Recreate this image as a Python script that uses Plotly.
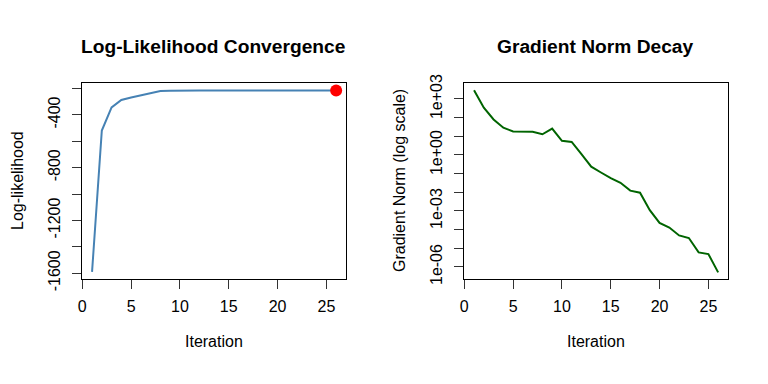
import plotly.graph_objects as go

iterations = list(range(1, 27))
loglik = [-1590, -518, -343, -286, -267, -250, -234, -219, -217, -215,
          -215, -215, -215, -215, -215, -215, -215, -215, -215, -215,
          -215, -215, -215, -215, -215, -215]
log10_grad = [3.47, 2.53, 1.90, 1.46, 1.26, 1.24, 1.24, 1.11, 1.41, 0.76,
              0.70, 0.05, -0.63, -0.94, -1.24, -1.49, -1.91, -2.02, -2.96, -3.64,
              -3.89, -4.31, -4.45, -5.22, -5.31, -6.29]
grad_norm = [10 ** v for v in log10_grad]

ll_tickvals = list(range(-1600, -199, 200))
ll_ticktext = [str(v) if v % 400 == 0 else "" for v in ll_tickvals]
gn_exponents = list(range(-6, 4))
gn_tickvals = [10.0 ** k for k in gn_exponents]
gn_labels = {3: "1e+03", 0: "1e+00", -3: "1e-03", -6: "1e-06"}
gn_ticktext = [gn_labels.get(k, "") for k in gn_exponents]
x_ticks = [0, 5, 10, 15, 20, 25]

FONT = "Liberation Sans, Arial, Helvetica, sans-serif"

fig = go.Figure()
fig.add_trace(go.Scatter(x=iterations, y=loglik, mode="lines",
                         line=dict(color="#4682B4", width=2), xaxis="x", yaxis="y", showlegend=False))
fig.add_trace(go.Scatter(x=[iterations[-1]], y=[loglik[-1]], mode="markers",
                         marker=dict(color="red", size=12), xaxis="x", yaxis="y", showlegend=False))
fig.add_trace(go.Scatter(x=iterations, y=grad_norm, mode="lines",
                         line=dict(color="#006400", width=2), xaxis="x2", yaxis="y2", showlegend=False))

W, H = 768, 384
def px(x): return x / W
def py(y): return 1 - y / H

axis_common = dict(showline=True, linecolor="black", linewidth=1, mirror=True,
                   ticks="outside", ticklen=9.6, tickcolor="#333333", tickwidth=1,
                   showgrid=False, zeroline=False,
                   tickfont=dict(size=16, color="black", family=FONT))

fig.update_layout(
    width=W, height=H,
    margin=dict(l=0, r=0, t=0, b=0),
    paper_bgcolor="white", plot_bgcolor="white",
    font=dict(family=FONT, color="black"),
    xaxis=dict(domain=[px(78.7), px(343.7)], range=[0, 27], tickvals=x_ticks, anchor="y",
               ticklabelstandoff=4, **axis_common),
    yaxis=dict(domain=[py(286), py(78.7)], range=[-1641, -159], tickvals=ll_tickvals, ticktext=ll_ticktext,
               tickangle=-90, anchor="x", ticklabelstandoff=5, **axis_common),
    xaxis2=dict(domain=[px(462.7), px(727.7)], range=[0, 27], tickvals=x_ticks, anchor="y2",
                ticklabelstandoff=4, **axis_common),
    yaxis2=dict(domain=[py(286), py(78.7)], type="log", range=[-6.625, 3.846], tickvals=gn_tickvals,
                ticktext=gn_ticktext, tickangle=-90, anchor="x2", ticklabelstandoff=5, **axis_common),
    annotations=[
        dict(text="<b>Log-Likelihood Convergence</b>", x=px(211), y=py(40), xref="paper", yref="paper",
             showarrow=False, font=dict(size=19.2, family=FONT), xanchor="center", yanchor="middle"),
        dict(text="<b>Gradient Norm Decay</b>", x=px(595), y=py(40), xref="paper", yref="paper",
             showarrow=False, font=dict(size=19.2, family=FONT), xanchor="center", yanchor="middle"),
        dict(text="Iteration", x=px(211), y=py(353), xref="paper", yref="paper",
             showarrow=False, font=dict(size=16, family=FONT), xanchor="center", yanchor="middle"),
        dict(text="Iteration", x=px(595), y=py(353), xref="paper", yref="paper",
             showarrow=False, font=dict(size=16, family=FONT), xanchor="center", yanchor="middle"),
        dict(text="Log-likelihood", x=px(13.5), y=py(182), xref="paper", yref="paper", textangle=-90,
             showarrow=False, font=dict(size=16, family=FONT), xanchor="center", yanchor="middle"),
        dict(text="Gradient Norm (log scale)", x=px(397.5), y=py(182), xref="paper", yref="paper", textangle=-90,
             showarrow=False, font=dict(size=16, family=FONT), xanchor="center", yanchor="middle"),
    ],
)

fig.write_html("out.html", config={"displayModeBar": False},
               post_script="document.body.style.margin='0';document.body.style.overflow='hidden';")
